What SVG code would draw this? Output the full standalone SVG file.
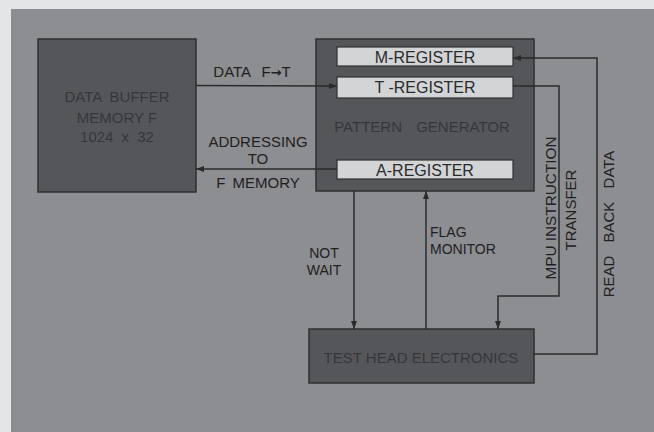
<svg xmlns="http://www.w3.org/2000/svg" width="654" height="432" viewBox="0 0 654 432">
<defs>
<style>
.box{fill:#55565a;stroke:#2e2f31;stroke-width:1.5}
.reg{fill:#d3d4d6;stroke:#2e2f31;stroke-width:1.2}
.t{font-family:"Liberation Sans",Arial,sans-serif;font-size:15px;fill:#1f2022;text-anchor:middle}
.s{font-family:"Liberation Sans",Arial,sans-serif;font-size:14px;fill:#1f2022}
.m{text-anchor:middle}
.tin{font-family:"Liberation Sans",Arial,sans-serif;font-size:15px;fill:#35363a;text-anchor:middle}
.treg{font-family:"Liberation Sans",Arial,sans-serif;font-size:16px;fill:#2a2b2d;text-anchor:middle}
.c{fill:none;stroke:#2a2b2d;stroke-width:1.5;marker-end:url(#ah)}
</style>
<marker id="ah" markerUnits="userSpaceOnUse" markerWidth="8" markerHeight="8" viewBox="0 0 8 8" refX="8" refY="4" orient="auto">
<path d="M0,1 L8,4 L0,7 Z" fill="#2a2b2d"/>
</marker>
</defs>
<rect x="0" y="0" width="654" height="432" fill="#e4e5e6"/>
<rect x="11" y="9" width="643" height="423" fill="#8c8e92"/>

<g id="data-buffer">
<rect class="box" x="38" y="39" width="158" height="153"/>
<text class="tin" x="117" y="102" word-spacing="4">DATA BUFFER</text>
<text class="tin" x="117" y="123">MEMORY F</text>
<text class="tin" x="117" y="142" word-spacing="4">1024 x 32</text>
</g>

<g id="pattern-generator">
<rect class="box" x="316" y="39" width="218" height="152"/>
<text class="tin" x="422" y="132" word-spacing="10">PATTERN GENERATOR</text>
</g>

<g id="m-register">
<rect class="reg" x="337" y="47" width="176" height="19"/>
<text class="treg" x="425" y="63">M-REGISTER</text>
</g>

<g id="t-register">
<rect class="reg" x="337" y="77" width="176" height="21"/>
<text class="treg" x="425" y="93">T -REGISTER</text>
</g>

<g id="a-register">
<rect class="reg" x="337" y="160" width="176" height="19"/>
<text class="treg" x="425" y="176">A-REGISTER</text>
</g>

<g id="test-head">
<rect class="box" x="309" y="329" width="225" height="54"/>
<text class="tin" x="421" y="363">TEST HEAD ELECTRONICS</text>
</g>

<g id="connectors">
<path class="c" d="M196,85.5 L337,86"/>
<path class="c" d="M337,169 L196,169"/>
<path class="c" d="M354,191 L354,329"/>
<path class="c" d="M426,329 L426,191"/>
<path class="c" d="M513,86 L559,86 L559,296 L498,296 L498,329"/>
<path class="c" d="M534,354 L597,354 L597,58 L513,58"/>
</g>

<g id="labels">
<text class="t" x="252" y="77" word-spacing="7">DATA F<tspan font-family="DejaVu Sans, sans-serif" font-weight="bold" font-size="13">→</tspan>T</text>
<text class="t" x="258" y="147">ADDRESSING</text>
<text class="t" x="258" y="164">TO</text>
<text class="t" x="258" y="188" word-spacing="3">F MEMORY</text>
<text class="s m" x="324" y="258">NOT</text>
<text class="s m" x="324" y="274.5">WAIT</text>
<text class="s" x="430" y="237">FLAG</text>
<text class="s" x="430" y="253.5">MONITOR</text>
<text class="t" transform="translate(555.5,208) rotate(-90)" textLength="143" lengthAdjust="spacingAndGlyphs">MPU INSTRUCTION</text>
<text class="t" transform="translate(576,210) rotate(-90)">TRANSFER</text>
<text class="t" transform="translate(614,224) rotate(-90)" word-spacing="9">READ BACK DATA</text>
</g>
</svg>
